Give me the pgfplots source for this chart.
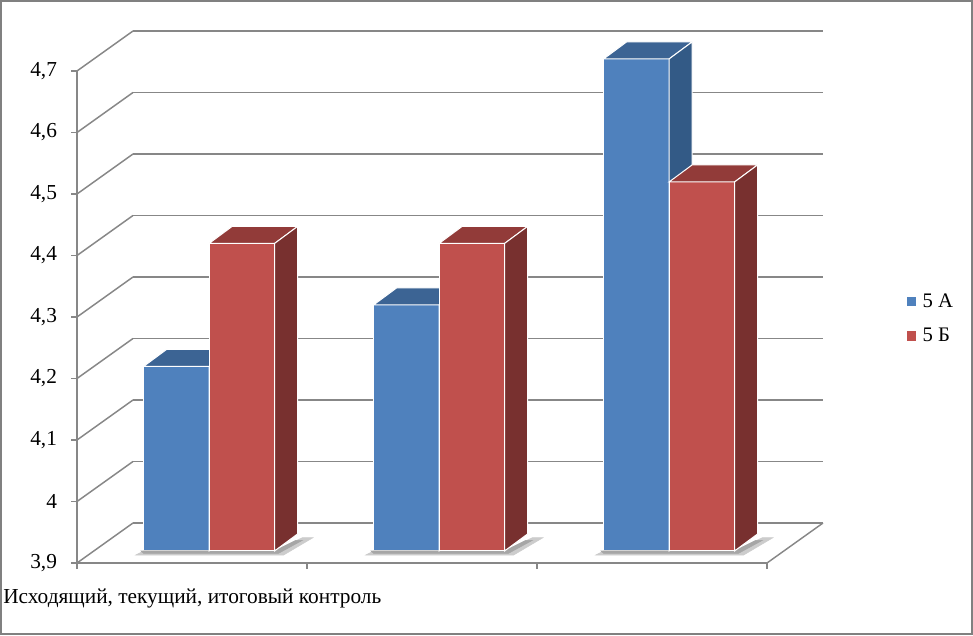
\documentclass[border=0pt]{standalone}
\usepackage{pgfplots}
\pgfplotsset{compat=1.18}
\usepackage{fontspec}
\setmainfont{Liberation Serif}
\definecolor{gridgray}{HTML}{878787}
\definecolor{bF}{HTML}{4F81BD}
\definecolor{bT}{HTML}{3C6494}
\definecolor{bS}{HTML}{335A86}
\definecolor{rF}{HTML}{C0504D}
\definecolor{rT}{HTML}{923B39}
\definecolor{rS}{HTML}{78302F}
\pgfdeclareplotmark{void}{}
\pgfplotsset{baraxis/.style={at={(70.5pt,63pt)}, anchor=south west, scale only axis,
  x=172.5pt, y=461.25pt, xmin=0,xmax=3,ymin=3.9,ymax=4.8, hide axis, clip marker paths=false}}
\begin{document}
\begin{tikzpicture}
\useasboundingbox (0,0) rectangle (729.75pt,476.25pt);
\draw[black!50, line width=1.5pt] (0.75pt,0.75pt) rectangle (729pt,475.5pt);
% back wall
\begin{axis}[at={(99.75pt,84pt)}, anchor=south west, scale only axis,
  x=172.5pt, y=461.25pt, xmin=0,xmax=3,ymin=3.9,ymax=4.7,
  axis line style={draw=none}, tick style={draw=none},
  xtick=\empty, ytick={3.9,4.0,4.1,4.2,4.3,4.4,4.5,4.6,4.7}, yticklabels={},
  ymajorgrids, grid style={gridgray, line width=1.1pt}]
\addplot[draw=none] coordinates {(0,3.9)};
\end{axis}
% front frame
\begin{axis}[at={(57.75pt,54pt)}, anchor=south west, scale only axis,
  x=172.5pt, y=461.25pt, xmin=0,xmax=3,ymin=3.9,ymax=4.7, clip=false,
  axis lines*=left, axis line style={gridgray, line width=1.1pt},
  tick style={gridgray, line width=1.1pt}, tick align=outside, major tick length=4.5pt,
  xtick={0,1,2,3}, xticklabels={},
  ytick={3.9,4.0,4.1,4.2,4.3,4.4,4.5,4.6,4.7},
  yticklabel style={font=\fontsize{16}{19}\selectfont, xshift=-7pt, /pgf/number format/use comma, /pgf/number format/fixed, /pgf/number format/assume math mode=true}]
\addplot[draw=none] coordinates {(0,3.9)};
\pgfplotsinvokeforeach{3.9,4.0,4.1,4.2,4.3,4.4,4.5,4.6,4.7}{
  \draw[gridgray, line width=1.1pt] (axis cs:0,#1) -- ++(42pt,30pt);
}
\draw[gridgray, line width=1.1pt] (axis cs:3,3.9) -- ++(42pt,30pt);
\end{axis}
% bars 5 A
\begin{axis}[baraxis]
\addplot[ybar, bar width=0.2848, bar shift=-0.1424, fill=bF, draw=white, line width=0.75pt]
  coordinates {(0.5,4.2) (1.5,4.3) (2.5,4.7)};
\addplot[scatter, only marks, mark=void, visualization depends on={y \as \rawy},
  scatter/@pre marker code/.code={%
    \pgfmathsetmacro\barh{(\rawy-3.9)*461.25}%
    \pgfmathsetmacro\barb{12.75-\barh}%
    \pgfmathsetmacro\barc{-\barh-3}%
    \pgfmathsetmacro\bard{-\barh+10}%
    \pgfmathsetmacro\bare{-\barh+8}%
    \pgfmathsetmacro\barf{-\barh-1.8}%
    \fill[black!20] (-55pt,\barc pt) -- (-49pt,-\barh pt) -- (49pt,-\barh pt) -- (70pt,\bard pt) -- (78pt,\bard pt) -- (56pt,\barc pt) -- cycle;
    \fill[black!35] (-51pt,-\barh pt) -- (49pt,-\barh pt) -- (65pt,\bare pt) -- (70pt,\bare pt) -- (52pt,\barf pt) -- (-49pt,\barf pt) -- cycle;
    \fill[bT, draw=white, line width=0.75pt] (-49.125pt,0pt) -- (0pt,0pt) -- (17.25pt,12.75pt) -- (-31.875pt,12.75pt) -- cycle;
    \fill[bS, draw=white, line width=0.75pt] (0pt,0pt) -- (17.25pt,12.75pt) -- (17.25pt,\barb pt) -- (0pt,-\barh pt) -- cycle;
  },
  scatter/@post marker code/.code={}]
  coordinates {(0.5,4.2) (1.5,4.3) (2.5,4.7)};
\end{axis}
% bars 5 B
\begin{axis}[baraxis,
  legend style={draw=none, fill=none, at={(1.172,0.42)}, anchor=west,
    font=\fontsize{15.5}{18}\selectfont, row sep=10pt,
    /tikz/every odd column/.append style={column sep=3pt}}, legend cell align=left]
\addlegendimage{legend image code/.code={\fill[bF] (0pt,-3.2pt) rectangle (6.4pt,3.2pt);}}
\addlegendentry{5 A}
\addlegendimage{legend image code/.code={\fill[rF] (0pt,-3.2pt) rectangle (6.4pt,3.2pt);}}
\addlegendentry{5 Б}
\addplot[forget plot, ybar, bar width=0.2848, bar shift=0.1424, fill=rF, draw=white, line width=0.75pt]
  coordinates {(0.5,4.4) (1.5,4.4) (2.5,4.5)};
\addplot[forget plot, scatter, only marks, mark=void, visualization depends on={y \as \rawy},
  scatter/@pre marker code/.code={%
    \pgfmathsetmacro\barh{(\rawy-3.9)*461.25}%
    \pgfmathsetmacro\barb{12.75-\barh}%
    \fill[rT, draw=white, line width=0.75pt] (0pt,0pt) -- (49.125pt,0pt) -- (66.375pt,12.75pt) -- (17.25pt,12.75pt) -- cycle;
    \fill[rS, draw=white, line width=0.75pt] (49.125pt,0pt) -- (66.375pt,12.75pt) -- (66.375pt,\barb pt) -- (49.125pt,-\barh pt) -- cycle;
  },
  scatter/@post marker code/.code={}]
  coordinates {(0.5,4.4) (1.5,4.4) (2.5,4.5)};
\end{axis}
\node[anchor=base west, inner sep=0pt, font=\fontsize{16}{19}\selectfont] at (2.25pt,24pt) {Исходящий, текущий, итоговый контроль};
\end{tikzpicture}
\end{document}
